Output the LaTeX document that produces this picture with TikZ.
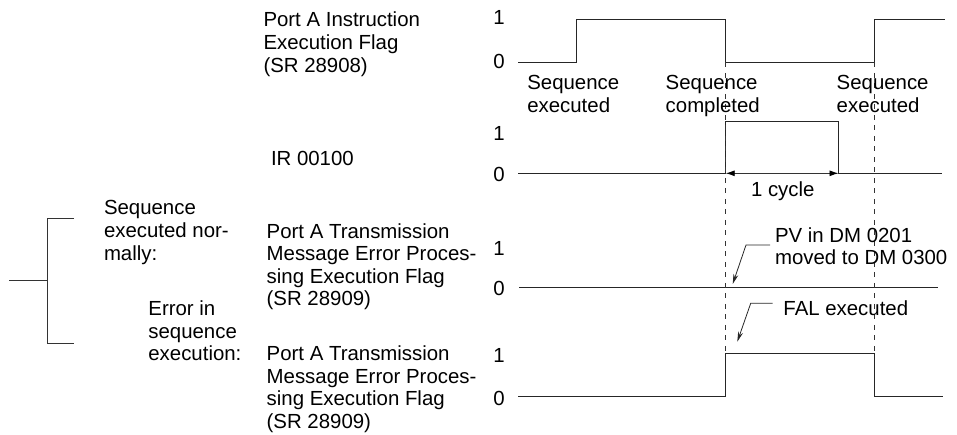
\documentclass[tikz,border=0pt]{standalone}
\usepackage{fontspec}
\setmainfont{Liberation Sans}
\usetikzlibrary{arrows.meta}
\newcommand\mlines[2]{\vtop{\baselineskip=#1\lineskiplimit=-30pt\lineskip=0pt\halign{##\hfil\cr#2\crcr}}}
\begin{document}
\begin{tikzpicture}[x=1pt,y=-1pt,
  every node/.style={inner sep=0pt,outer sep=0pt,font=\fontsize{20.4}{23}\selectfont},
  txt/.style={anchor=base west},
  lvl/.style={anchor=base},
  wave/.style={line width=1pt,draw=black!85},
  guide/.style={line width=0.9pt,draw=black!80,dash pattern=on 5pt off 5.5pt},
  ptr/.style={line width=0.8pt,draw=black!85,-{Stealth[length=10pt,width=5pt]}},
  dimarrow/.style={line width=0.9pt,draw=black!80,{Latex[length=9pt,width=6pt,black]}-{Latex[length=9pt,width=6pt,black]}},
  brace/.style={line width=0.9pt,draw=black!80}]
\useasboundingbox (0,0) rectangle (957,434);

% left bracket
\coordinate (bt) at (74,218.3);
\coordinate (btc) at (47.7,218.3);
\coordinate (bbc) at (47.7,343.3);
\coordinate (bb) at (74,343.3);
\coordinate (bm) at (47.7,280);
\coordinate (bl) at (9,280);
\draw[brace] (bt) -- (btc) -- (bbc) -- (bb);
\draw[brace] (bl) -- (bm);

% left texts
\node[txt] (normal) at (104,214) {\mlines{23.3pt}{Sequence\cr executed nor-\cr mally:}};
\node[txt] (error) at (148.4,315.7) {\mlines{22.5pt}{Error in\cr sequence\cr execution:}};

% signal names
\node[txt] (n1) at (263.5,26) {\mlines{23.3pt}{Port A Instruction\cr Execution Flag\cr (SR 28908)}};
\node[txt] (n2) at (271,165) {IR 00100};
\node[txt] (n3) at (266.7,238.3) {\mlines{22.5pt}{Port A Transmission\cr Message Error Proces-\cr sing Execution Flag\cr (SR 28909)}};
\node[txt] (n4) at (266.7,360.7) {\mlines{22.5pt}{Port A Transmission\cr Message Error Proces-\cr sing Execution Flag\cr (SR 28909)}};

% level labels
\node[lvl] (h1) at (499,24.8) {1};
\node[lvl] (l1) at (499,68.3) {0};
\node[lvl] (h2) at (499,140.5) {1};
\node[lvl] (l2) at (499,181.5) {0};
\node[lvl] (h3) at (499,255) {1};
\node[lvl] (l3) at (499,295) {0};
\node[lvl] (h4) at (499,362.5) {1};
\node[lvl] (l4) at (499,405) {0};

% signal 1
\coordinate (s1a) at (518,62.3);
\coordinate (s1b) at (576,62.3);
\coordinate (s1c) at (576,19.3);
\coordinate (s1d) at (725.7,19.3);
\coordinate (s1e) at (725.7,62.3);
\coordinate (s1f) at (874.3,62.3);
\coordinate (s1g) at (874.3,19.3);
\coordinate (s1h) at (945,19.3);
\draw[wave] (s1a) -- (s1b) -- (s1c) -- (s1d) -- (s1e) -- (s1f) -- (s1g) -- (s1h);

% signal 2
\coordinate (s2a) at (518,173.3);
\coordinate (s2b) at (725.7,173.3);
\coordinate (s2c) at (725.7,121.7);
\coordinate (s2d) at (838.5,121.7);
\coordinate (s2e) at (838.5,173.3);
\coordinate (s2f) at (941.7,173.3);
\draw[wave] (s2a) -- (s2b) -- (s2c) -- (s2d) -- (s2e) -- (s2f);

% signal 3
\coordinate (s3a) at (519,287.7);
\coordinate (s3b) at (938,287.7);
\draw[wave] (s3a) -- (s3b);

% signal 4
\coordinate (s4a) at (518,396.7);
\coordinate (s4b) at (725.7,396.7);
\coordinate (s4c) at (725.7,353.3);
\coordinate (s4d) at (874.3,353.3);
\coordinate (s4e) at (874.3,396.7);
\coordinate (s4f) at (943,396.7);
\draw[wave] (s4a) -- (s4b) -- (s4c) -- (s4d) -- (s4e) -- (s4f);

% dashed guides
\draw[guide] (s1e) -- (s4c);
\draw[guide] (s1f) -- (s4d);

% event labels
\node[txt] (ev1) at (527.3,89.3) {\mlines{23.5pt}{Sequence\cr executed}};
\node[txt] (ev2) at (665.7,89.3) {\mlines{23.5pt}{Sequence\cr completed}};
\node[txt] (ev3) at (836.7,89.3) {\mlines{23.5pt}{Sequence\cr executed}};

% 1 cycle
\draw[dimarrow] (s2b) -- (s2e);
\node[txt] (cyc) at (751,196.7) {1 cycle};

% PV pointer
\node[txt] (pv) at (775,242.5) {\mlines{21.5pt}{PV in DM 0201\cr moved to DM 0300}};
\coordinate (pva) at (770,245);
\coordinate (pvb) at (746,245);
\coordinate (pvc) at (732.7,284);
\draw[ptr] (pva) -- (pvb) -- (pvc);

% FAL pointer
\node[txt] (fal) at (783.4,315.5) {FAL executed};
\coordinate (fa) at (772.7,303.3);
\coordinate (fb) at (750.7,303.3);
\coordinate (fc) at (737.3,341.7);
\draw[ptr] (fa) -- (fb) -- (fc);
\end{tikzpicture}
\end{document}
